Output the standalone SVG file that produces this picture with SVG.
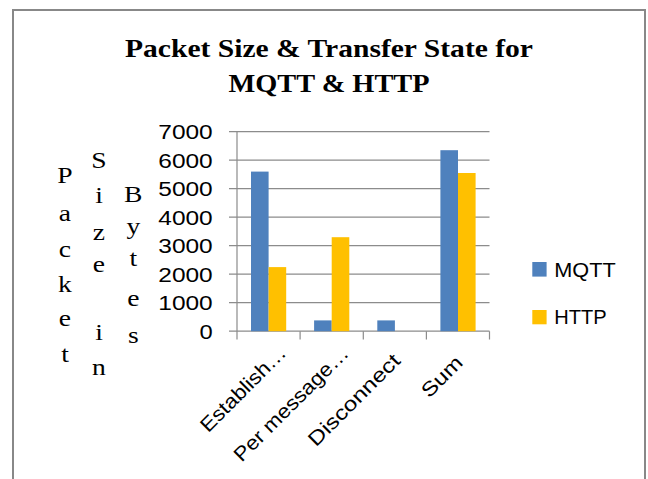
<svg xmlns="http://www.w3.org/2000/svg" width="648" height="479" viewBox="0 0 648 479">
  <style>
    .frame { fill: #ffffff; stroke: #888888; stroke-width: 2; }
    .grid { stroke: #8c8c8c; stroke-width: 1.2; fill: none; }
    .title { font-family: "Liberation Serif", "Times New Roman", serif; font-weight: bold; font-size: 26px; fill: #000; text-anchor: middle; }
    .ytitle { font-family: "Liberation Serif", "Times New Roman", serif; font-size: 23px; fill: #000; text-anchor: middle; }
    .tick { font-family: "Liberation Sans", Arial, sans-serif; font-size: 20px; fill: #000; text-anchor: end; }
    .cat { font-family: "Liberation Sans", Arial, sans-serif; font-size: 20px; fill: #000; text-anchor: end; }
    .leg { font-family: "Liberation Sans", Arial, sans-serif; font-size: 21px; fill: #000; }
    .mqtt { fill: #4f81bd; }
    .http { fill: #ffc000; }
  </style>

  <!-- chart frame (bottom edge runs past the canvas) -->
  <rect class="frame" x="13" y="10" width="632" height="490"/>

  <!-- title -->
  <g id="title">
    <text class="title" x="329" y="57" textLength="408" lengthAdjust="spacingAndGlyphs">Packet Size &amp; Transfer State for</text>
    <text class="title" x="329" y="91.5" textLength="201" lengthAdjust="spacingAndGlyphs">MQTT &amp; HTTP</text>
  </g>

  <!-- vertical axis title, stacked letters -->
  <g id="axis-title">
    <g transform="translate(65 0) scale(1.2 1)">
      <text class="ytitle" x="0" y="183.5">P</text>
      <text class="ytitle" x="0" y="221">a</text>
      <text class="ytitle" x="0" y="257.5">c</text>
      <text class="ytitle" x="0" y="292.5">k</text>
      <text class="ytitle" x="0" y="326.5">e</text>
      <text class="ytitle" x="0" y="362.5">t</text>
    </g>
    <g transform="translate(99 0) scale(1.2 1)">
      <text class="ytitle" x="0" y="168.3">S</text>
      <text class="ytitle" x="0" y="203.3">i</text>
      <text class="ytitle" x="0" y="240">z</text>
      <text class="ytitle" x="0" y="271.7">e</text>
      <text class="ytitle" x="0" y="340">i</text>
      <text class="ytitle" x="0" y="375">n</text>
    </g>
    <g transform="translate(133.3 0) scale(1.2 1)">
      <text class="ytitle" x="0" y="201.7">B</text>
      <text class="ytitle" x="0" y="234">y</text>
      <text class="ytitle" x="0" y="266">t</text>
      <text class="ytitle" x="0" y="306.5">e</text>
      <text class="ytitle" x="0" y="343">s</text>
    </g>
  </g>

  <!-- gridlines, axes and tick marks -->
  <g id="axes">
    <path class="grid" d="M229 131.7H489.5 M229 160.2H489.5 M229 188.7H489.5 M229 217.2H489.5 M229 245.7H489.5 M229 274.2H489.5 M229 302.7H489.5 M229 331.2H489.5"/>
    <path class="grid" d="M237 131.7V339.5 M300.1 331.2V339.5 M363.3 331.2V339.5 M426.4 331.2V339.5 M489.5 331.2V339.5"/>
  </g>

  <!-- value labels -->
  <g id="y-labels">
    <text class="tick" x="212.7" y="139.4" textLength="54.4" lengthAdjust="spacingAndGlyphs">7000</text>
    <text class="tick" x="212.7" y="167.9" textLength="54.4" lengthAdjust="spacingAndGlyphs">6000</text>
    <text class="tick" x="212.7" y="196.4" textLength="54.4" lengthAdjust="spacingAndGlyphs">5000</text>
    <text class="tick" x="212.7" y="224.9" textLength="54.4" lengthAdjust="spacingAndGlyphs">4000</text>
    <text class="tick" x="212.7" y="253.4" textLength="54.4" lengthAdjust="spacingAndGlyphs">3000</text>
    <text class="tick" x="212.7" y="281.9" textLength="54.4" lengthAdjust="spacingAndGlyphs">2000</text>
    <text class="tick" x="212.7" y="310.4" textLength="54.4" lengthAdjust="spacingAndGlyphs">1000</text>
    <text class="tick" x="212.7" y="338.9" textLength="13.2" lengthAdjust="spacingAndGlyphs">0</text>
  </g>

  <!-- bars: MQTT blue, HTTP yellow -->
  <g id="bars">
    <rect class="mqtt" x="251" y="171.6" width="17.6" height="159.6"/>
    <rect class="http" x="268.6" y="267.1" width="17.6" height="64.1"/>
    <rect class="mqtt" x="314.1" y="320.4" width="17.6" height="10.8"/>
    <rect class="http" x="331.7" y="237.2" width="17.6" height="94"/>
    <rect class="mqtt" x="377.3" y="320.4" width="17.6" height="10.8"/>
    <rect class="mqtt" x="440.4" y="150.2" width="17.6" height="181"/>
    <rect class="http" x="458" y="173" width="17.6" height="158.2"/>
  </g>

  <!-- category labels -->
  <g id="x-labels">
    <text class="cat" transform="translate(287.5 354) rotate(-45)" textLength="112" lengthAdjust="spacingAndGlyphs">Establish…</text>
    <text class="cat" transform="translate(350 354.5) rotate(-45)" textLength="153" lengthAdjust="spacingAndGlyphs">Per message…</text>
    <text class="cat" transform="translate(401.5 362) rotate(-45)" textLength="121" lengthAdjust="spacingAndGlyphs">Disconnect</text>
    <text class="cat" transform="translate(464 364) rotate(-45)" textLength="49" lengthAdjust="spacingAndGlyphs">Sum</text>
  </g>

  <!-- legend -->
  <g id="legend">
    <g id="legend-mqtt">
      <rect class="mqtt" x="532.3" y="262" width="14.3" height="14.6"/>
      <text class="leg" x="554.3" y="276.7" textLength="61.4" lengthAdjust="spacingAndGlyphs">MQTT</text>
    </g>
    <g id="legend-http">
      <rect class="http" x="532.3" y="310" width="14.3" height="14.3"/>
      <text class="leg" x="554.3" y="324" textLength="52.4" lengthAdjust="spacingAndGlyphs">HTTP</text>
    </g>
  </g>
</svg>
